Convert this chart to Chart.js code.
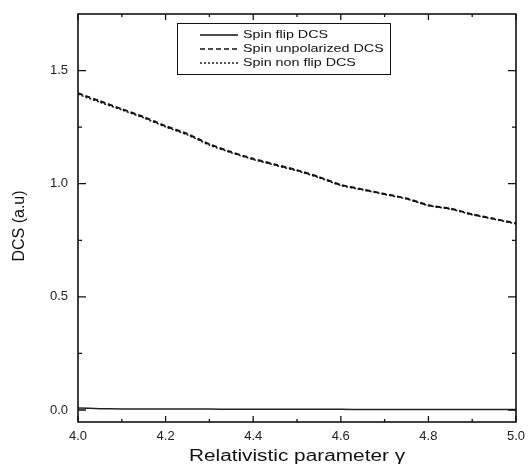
<!DOCTYPE html>
<html>
<head>
<meta charset="utf-8">
<script src="https://cdn.jsdelivr.net/npm/chart.js@4/dist/chart.umd.min.js"></script>
<style>
  html, body { margin: 0; padding: 0; background: #fff; }
  #wrap { width: 529px; height: 466px; }
</style>
</head>
<body>
<div id="wrap"><canvas id="c" width="529" height="466"></canvas></div>
<script>
// relativistic parameter gamma
const gamma = [4.0, 4.05, 4.1, 4.15, 4.2, 4.25, 4.3, 4.35, 4.4, 4.45, 4.5,
               4.55, 4.6, 4.65, 4.7, 4.75, 4.8, 4.85, 4.9, 4.95, 5.0];
const spinFlip = [0.009, 0.006, 0.005, 0.005, 0.004, 0.004, 0.004, 0.003, 0.003, 0.003, 0.003,
                  0.003, 0.003, 0.002, 0.002, 0.002, 0.002, 0.002, 0.002, 0.002, 0.002];
const spinUnpolarized = [1.40, 1.365, 1.33, 1.295, 1.255, 1.22, 1.175, 1.14, 1.11, 1.085, 1.06,
                         1.03, 0.995, 0.975, 0.955, 0.935, 0.905, 0.89, 0.865, 0.845, 0.825];
const spinNonFlip = [1.395, 1.36, 1.326, 1.291, 1.251, 1.216, 1.171, 1.137, 1.107, 1.082, 1.057,
                     1.027, 0.992, 0.973, 0.953, 0.933, 0.903, 0.888, 0.863, 0.843, 0.823];
const xTicks = [4.0, 4.2, 4.4, 4.6, 4.8, 5.0];
const xMinor = [4.1, 4.3, 4.5, 4.7, 4.9];
const yTicks = [0.0, 0.5, 1.0, 1.5];
const yMinor = [0.25, 0.75, 1.25];
const xTitle = 'Relativistic parameter γ';
const yTitle = 'DCS (a.u)';

const FONT = '"Liberation Sans", Arial, sans-serif';
const pts = ys => gamma.map((g, i) => ({ x: g, y: ys[i] }));

// text in the original is a bit wider than Arial, so stretch it sideways
function wideText(ctx, txt, x, y, sx, align) {
  ctx.save();
  ctx.translate(x, y);
  ctx.scale(sx, 1);
  ctx.textAlign = align;
  ctx.fillText(txt, 0, 0);
  ctx.restore();
}

const frame = {
  id: 'frame',
  afterDatasetsDraw(chart) {
    const { ctx, chartArea: a, scales: { x, y } } = chart;
    ctx.save();
    ctx.strokeStyle = '#111';
    ctx.lineWidth = 1.6;
    ctx.strokeRect(a.left, a.top, a.right - a.left, a.bottom - a.top);
    ctx.lineWidth = 1.3;
    ctx.beginPath();
    const tx = (v, len) => {
      const p = x.getPixelForValue(v);
      ctx.moveTo(p, a.bottom); ctx.lineTo(p, a.bottom - len);
      ctx.moveTo(p, a.top); ctx.lineTo(p, a.top + len);
    };
    const ty = (v, len) => {
      const p = y.getPixelForValue(v);
      ctx.moveTo(a.left, p); ctx.lineTo(a.left + len, p);
      ctx.moveTo(a.right, p); ctx.lineTo(a.right - len, p);
    };
    xTicks.forEach(v => tx(v, 6));
    xMinor.forEach(v => tx(v, 3));
    yTicks.forEach(v => ty(v, 8));
    yMinor.forEach(v => ty(v, 4));
    ctx.stroke();

    // axis titles
    ctx.fillStyle = '#111';
    ctx.textBaseline = 'middle';
    ctx.font = '16px ' + FONT;
    wideText(ctx, xTitle, (a.left + a.right) / 2, 457, 1.3, 'center');
    ctx.save();
    ctx.translate(20, 226);
    ctx.rotate(-Math.PI / 2);
    ctx.textAlign = 'center';
    ctx.fillText(yTitle, 0, 0);
    ctx.restore();

    // legend box
    const bx = 177, by = 23, bw = 213, bh = 51;
    ctx.lineWidth = 1;
    ctx.strokeRect(bx + 0.5, by + 0.5, bw, bh);
    ctx.font = '11px ' + FONT;
    chart.data.datasets.forEach((ds, i) => {
      const ry = 35 + i * 14;
      ctx.beginPath();
      ctx.lineWidth = 1.4;
      ctx.strokeStyle = '#111';
      ctx.setLineDash(ds.borderDash || []);
      ctx.moveTo(200, ry); ctx.lineTo(238, ry);
      ctx.stroke();
      ctx.setLineDash([]);
      wideText(ctx, ds.label, 243, ry, 1.3, 'left');
    });
    ctx.restore();
  }
};

new Chart(document.getElementById('c'), {
  type: 'line',
  data: {
    datasets: [
      { label: 'Spin flip DCS', data: pts(spinFlip), borderColor: '#222', borderWidth: 1.5, pointRadius: 0, tension: 0.2 },
      { label: 'Spin unpolarized DCS', data: pts(spinUnpolarized), borderColor: '#111', borderWidth: 2, borderDash: [5, 3], pointRadius: 0, tension: 0.2 },
      { label: 'Spin non flip DCS', data: pts(spinNonFlip), borderColor: '#111', borderWidth: 1.5, borderDash: [2, 2], pointRadius: 0, tension: 0.2 }
    ]
  },
  options: {
    responsive: false,
    animation: false,
    layout: { padding: { top: 14, right: 13, left: 0, bottom: 0 } },
    plugins: { legend: { display: false }, tooltip: { enabled: false } },
    scales: {
      x: {
        type: 'linear', min: 4.0, max: 5.0,
        grid: { display: false, drawTicks: false },
        border: { display: false },
        afterBuildTicks: s => { s.ticks = xTicks.map(v => ({ value: v })); },
        afterFit: s => { s.height = 44; s.paddingLeft = 0; s.paddingRight = 0; },
        ticks: {
          padding: 7, color: '#222', maxRotation: 0,
          font: { family: FONT, size: 13 },
          callback: v => v.toFixed(1)
        }
      },
      y: {
        type: 'linear', min: -0.053, max: 1.75,
        grid: { display: false, drawTicks: false },
        border: { display: false },
        afterBuildTicks: s => { s.ticks = yTicks.map(v => ({ value: v })); },
        afterFit: s => { s.width = 78; s.paddingTop = 0; s.paddingBottom = 0; },
        ticks: {
          padding: 10, color: '#222',
          font: { family: FONT, size: 13 },
          callback: v => v.toFixed(1)
        }
      }
    }
  },
  plugins: [frame]
});
</script>
</body>
</html>
